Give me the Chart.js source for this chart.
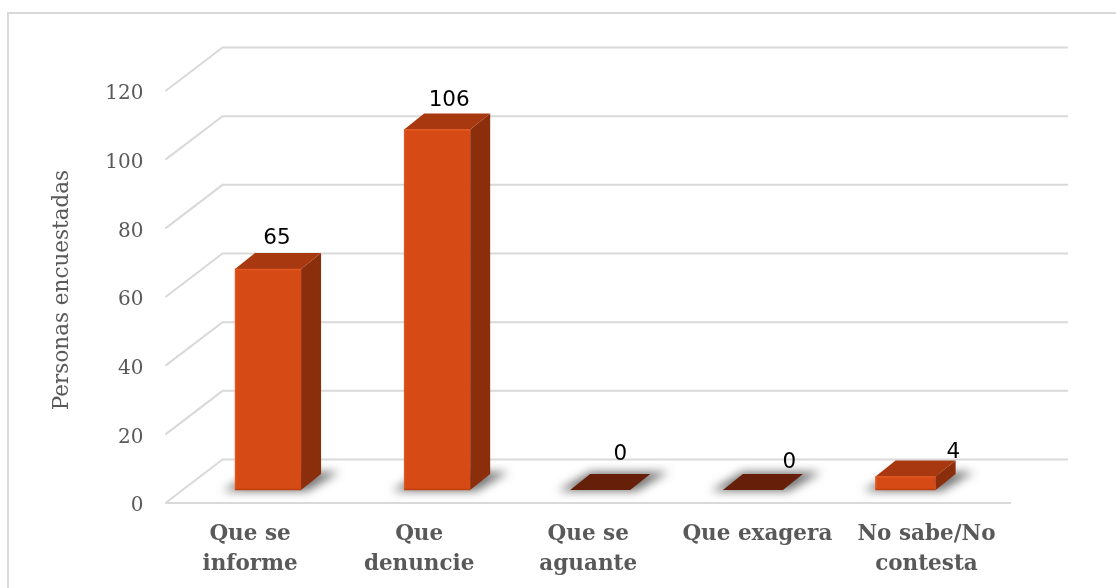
<!DOCTYPE html>
<html><head><meta charset="utf-8">
<style>html,body{margin:0;padding:0;background:#fff}#w{position:relative;width:1116px;height:588px}canvas{display:block}</style>
<script src="https://cdn.jsdelivr.net/npm/chart.js@4"></script>
</head><body><div id="w"><canvas id="c" width="1116" height="588"></canvas></div>
<script>
const categories = [["Que se","informe"],["Que","denuncie"],["Que se","aguante"],"Que exagera",["No sabe/No","contesta"]];
const respondents = [65,106,0,0,4];
const axisTitle = "Personas encuestadas";

const DEPTH_GRID = {dx:57, dy:43.5};
const DEPTH_BAR = {dx:20, dy:16};
const FRONT='#d64a16', SIDE='#8a2e0c', TOP='#a8380f', FLAT='#66200a', GRID='#d9d9d9';
const LABEL_NUDGE=[[0,0],[3,2],[5,-5],[5,3],[0,7]];

const barCentre = u => u + 18 - 0.097*Math.max(0,u-526);
const barWidth = (u,w) => w*(u>500?0.91:1);

function poly(ctx,pts,fill){ctx.beginPath();pts.forEach((p,i)=>i?ctx.lineTo(p[0],p[1]):ctx.moveTo(p[0],p[1]));ctx.closePath();ctx.fillStyle=fill;ctx.fill();}

const scene = {
  id:'scene',
  beforeDatasetsDraw(chart){
    const {ctx,scales:{x,y}} = chart;
    ctx.save();
    // picture frame: only the top and left edges show
    ctx.strokeStyle='#d9d9d9';ctx.lineWidth=2;
    ctx.beginPath();ctx.moveTo(8,588);ctx.lineTo(8,13);ctx.lineTo(1116,13);ctx.stroke();
    // axis title
    ctx.save();ctx.translate(62,290);ctx.rotate(-Math.PI/2);
    ctx.font='21.5px "DejaVu Serif"';ctx.fillStyle='#595959';ctx.textAlign='center';ctx.textBaseline='middle';
    ctx.fillText(axisTitle,0,0);ctx.restore();
    // walls
    ctx.strokeStyle=GRID;ctx.lineWidth=2;
    const L=x.left,R=x.right;
    y.ticks.forEach(t=>{
      const p=y.getPixelForValue(t.value);
      ctx.beginPath();ctx.moveTo(L,p);ctx.lineTo(L+DEPTH_GRID.dx,p-DEPTH_GRID.dy);ctx.lineTo(R+DEPTH_GRID.dx,p-DEPTH_GRID.dy);ctx.stroke();
    });
    const p0=y.getPixelForValue(0);
    ctx.beginPath();ctx.moveTo(L,p0);ctx.lineTo(R,p0);ctx.stroke();
    const meta=chart.getDatasetMeta(0);
    meta.data.forEach((el,i)=>{
      const u=x.getPixelForValue(i);
      const w=barWidth(u,el.$w||(el.$w=el.width));
      el.x=barCentre(u); el.width=w;
      const l=el.x-w/2,r=el.x+w/2,t=el.y,b=el.base,d=DEPTH_BAR;
      const off=3000;
      ctx.save();ctx.shadowColor='rgba(70,70,70,.75)';ctx.shadowBlur=10;ctx.shadowOffsetX=off;ctx.shadowOffsetY=0;
      poly(ctx,[[l-off-12,b+1],[r-off+6,b+1],[r-off+d.dx+18,b-d.dy-2],[l-off+d.dx,b-d.dy-2]],'#000');ctx.restore();
      if(respondents[i]===0){
        poly(ctx,[[l,b],[r,b],[r+d.dx,b-d.dy],[l+d.dx,b-d.dy]],FLAT);
      }else{
        poly(ctx,[[r,t],[r+d.dx,t-d.dy],[r+d.dx,b-d.dy],[r,b]],SIDE);
        poly(ctx,[[l,t],[r,t],[r+d.dx,t-d.dy],[l+d.dx,t-d.dy]],TOP);
      }
    });
    ctx.restore();
  },
  afterDatasetsDraw(chart){
    const {ctx,scales:{x}} = chart;
    const meta=chart.getDatasetMeta(0);
    ctx.save();
    meta.data.forEach((el,i)=>{
      if(respondents[i]===0) return;
      const l=el.x-el.width/2,r=el.x+el.width/2;
      ctx.lineWidth=1.5;ctx.strokeStyle='#e2561f';
      ctx.beginPath();ctx.moveTo(l+.5,el.base);ctx.lineTo(l+.5,el.y+.5);ctx.lineTo(r,el.y+.5);ctx.stroke();
      ctx.strokeStyle='#c04210';
      ctx.beginPath();ctx.moveTo(l,el.base-.5);ctx.lineTo(r,el.base-.5);ctx.stroke();
    });
    ctx.font='21.5px "DejaVu Sans"';ctx.fillStyle='#000';ctx.textAlign='center';ctx.textBaseline='middle';
    meta.data.forEach((el,i)=>{
      const u=x.getPixelForValue(i),n=LABEL_NUDGE[i];
      ctx.fillText(String(respondents[i]),u+27+n[0],el.y-DEPTH_BAR.dy-15+n[1]);
    });
    ctx.restore();
  }
};

new Chart(document.getElementById('c'),{
  type:'bar',
  data:{labels:categories,datasets:[{data:respondents,yAxisID:'yBars',backgroundColor:FRONT,borderWidth:0,barPercentage:1,categoryPercentage:66/169}]},
  options:{
    responsive:false,animation:false,
    layout:{padding:{left:50,right:105,top:91,bottom:0}},
    plugins:{legend:{display:false},tooltip:{enabled:false}},
    scales:{
      x:{grid:{display:false},border:{display:false},
         afterFit(s){s.height=85;},
         ticks:{color:'#595959',maxRotation:0,autoSkip:false,padding:9,font:{family:'"DejaVu Serif"',weight:'bold',size:21.5,lineHeight:1.38}}},
      y:{min:0,max:120,
         afterFit(s){s.width=115.5;},
         grid:{display:false},border:{display:false},
         ticks:{stepSize:20,color:'#595959',padding:14,labelOffset:3,font:{family:'"DejaVu Serif"',size:20}}},
      yBars:{display:false,min:-3.82,max:117.35}
    }
  },
  plugins:[scene]
});
</script></body></html>
